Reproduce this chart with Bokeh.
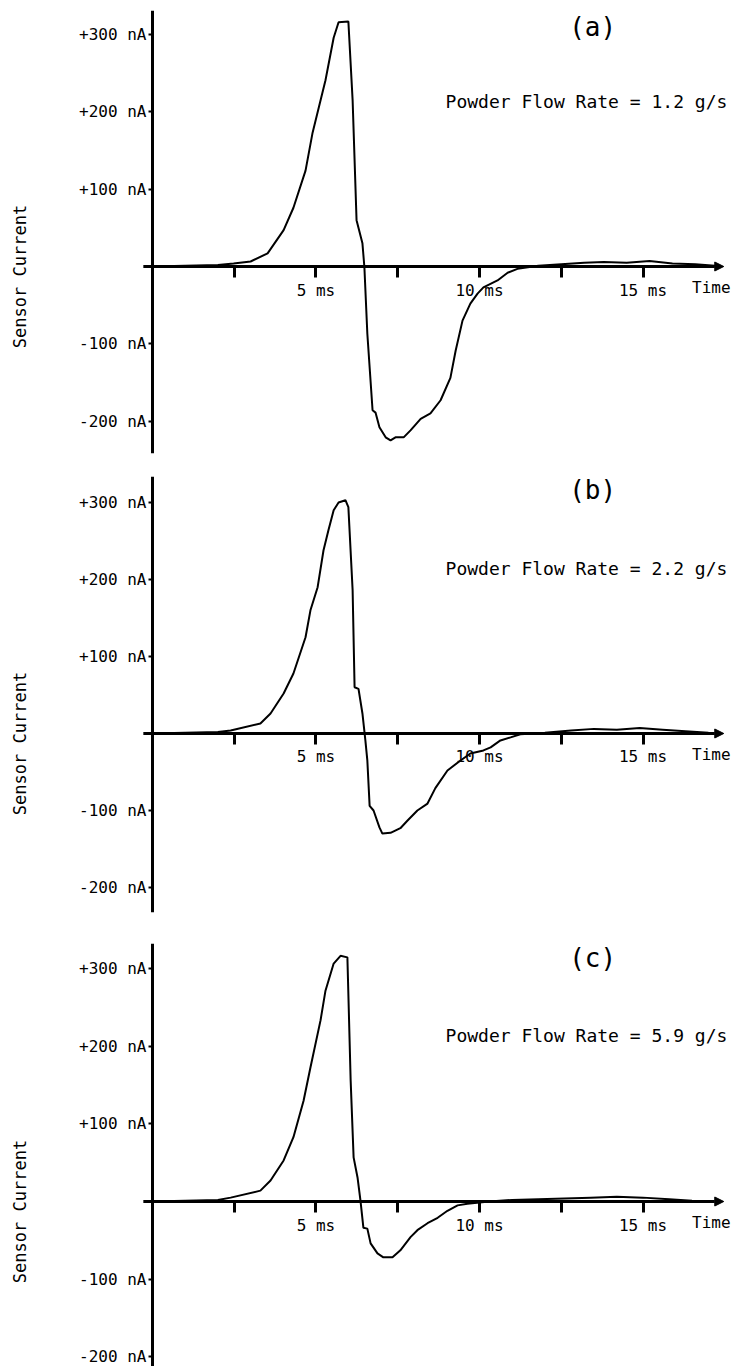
import math
from bokeh.plotting import figure
from bokeh.layouts import column
from bokeh.models import Label, Arrow, NormalHead, FixedTicker
from bokeh.embed import file_html
from bokeh.resources import INLINE

# ---------------- data ----------------
time_a = [0.0, 1.0, 2.0, 2.48, 3.0, 3.52, 4.01, 4.31, 4.68, 4.89, 5.29, 5.54, 5.69, 5.99,
          6.12, 6.24, 6.42, 6.48, 6.57, 6.73, 6.82, 6.94, 7.13, 7.28, 7.43, 7.68, 7.89,
          8.20, 8.50, 8.81, 9.11, 9.27, 9.48, 9.72, 9.94, 10.12, 10.55, 10.86, 11.16,
          11.8, 12.5, 13.2, 13.8, 14.5, 15.2, 15.9, 16.6, 17.2]
current_a = [0, 1, 2, 4, 6.5, 17, 47, 76, 124, 172, 241, 296, 316, 317,
             215, 60, 30, -1, -87, -186, -189, -208, -221, -225, -221, -221, -212,
             -197, -190, -173, -144, -109, -70, -48, -35, -27, -18, -8, -3,
             1, 3, 5, 6, 5, 7, 4, 3, 1]

time_b = [0.0, 1.0, 2.0, 2.39, 3.30, 3.61, 4.01, 4.31, 4.68, 4.83, 5.05, 5.23, 5.38, 5.54,
          5.69, 5.90, 5.99, 6.12, 6.18, 6.30, 6.42, 6.51, 6.57, 6.64, 6.76, 6.94, 7.03,
          7.28, 7.58, 7.80, 8.10, 8.41, 8.65, 9.02, 9.42, 9.72, 10.12, 10.34, 10.64,
          10.95, 11.25, 12.0, 12.8, 13.5, 14.2, 14.9, 15.6, 16.3, 17.0]
current_b = [0, 1, 2, 4, 13, 26, 52, 78, 125, 160, 190, 238, 264, 290,
             300, 303, 294, 186, 60, 58, 26, -9, -35, -94, -100, -122, -130,
             -129, -123, -113, -100, -91, -71, -48, -35, -26, -22, -18, -9,
             -5, -1, 1, 4, 6, 5, 7, 5, 3, 1]

time_c = [0.0, 1.0, 2.0, 2.39, 3.30, 3.61, 4.01, 4.31, 4.62, 4.83, 5.14, 5.29, 5.54,
          5.75, 5.96, 6.06, 6.15, 6.27, 6.36, 6.45, 6.57, 6.67, 6.88, 7.06, 7.34,
          7.58, 7.89, 8.10, 8.41, 8.72, 9.02, 9.33, 9.63, 10.3, 11.0, 11.8, 12.6,
          13.4, 14.2, 15.0, 15.8, 16.5]
current_c = [0, 1, 2, 5, 14, 27, 53, 83, 130, 173, 234, 272, 307,
             317, 315, 156, 57, 31, 1, -34, -35, -54, -67, -72, -72,
             -63, -46, -37, -28, -21, -12, -5, -3, 0, 2, 3, 4,
             5, 6, 5, 3, 1]

panel_tags = ["(a)", "(b)", "(c)"]
flow_rates = ["1.2", "2.2", "5.9"]

y_ticks = [-200, -100, 100, 200, 300]
y_tick_labels = {-200: "-200 nA", -100: "-100 nA", 100: "+100 nA", 200: "+200 nA", 300: "+300 nA"}
x_ticks = [2.5, 5, 7.5, 10, 12.5, 15]
x_tick_labels = {2.5: "", 5: "5 ms", 7.5: "", 10: "10 ms", 12.5: "", 15: "15 ms"}

# ---------------- layout / style ----------------
FONT = "DejaVu Sans Mono"
X_RANGE = (-4.648, 18.44)
WIDTH = 755
# (y_start, y_end, height, min_border_top, min_border_bottom)
PANEL_GEOM = [(-241.9, 331.2, 465, 10, 12),
              (-232.5, 333.8, 465, 11, 18),
              (-212.9, 332.9, 436, 13, 0)]
TAG_Y = [310, 316, 314]
FLOW_Y = [213, 214, 214]

series = [(time_a, current_a), (time_b, current_b), (time_c, current_c)]

figs = []
for i, ((t, c), (y0, y1, h, mbt, mbb)) in enumerate(zip(series, PANEL_GEOM)):
    p = figure(width=WIDTH, height=h, x_range=X_RANGE, y_range=(y0, y1),
               output_backend="svg", toolbar_location=None, title=None,
               min_border_left=0, min_border_right=0,
               min_border_top=mbt, min_border_bottom=mbb)
    p.outline_line_color = None
    p.grid.visible = False

    # y axis through x = 0
    p.yaxis.fixed_location = 0
    p.yaxis.ticker = FixedTicker(ticks=y_ticks)
    p.yaxis.major_label_overrides = y_tick_labels
    p.yaxis.axis_line_width = 3
    p.yaxis.axis_line_color = "black"
    p.yaxis.major_tick_out = 4
    p.yaxis.major_tick_in = 0
    p.yaxis.major_tick_line_width = 2
    p.yaxis.minor_tick_line_color = None
    p.yaxis.major_label_standoff = 2
    p.yaxis.major_label_text_font = FONT
    p.yaxis.major_label_text_font_size = "16px"
    p.yaxis.major_label_text_color = "black"

    # x axis through y = 0
    p.xaxis.fixed_location = 0
    p.xaxis.ticker = FixedTicker(ticks=x_ticks)
    p.xaxis.major_label_overrides = x_tick_labels
    p.xaxis.axis_line_color = None
    p.xaxis.major_tick_out = 11
    p.xaxis.major_tick_in = 0
    p.xaxis.major_tick_line_width = 3
    p.xaxis.major_tick_line_color = "black"
    p.xaxis.minor_tick_line_color = None
    p.xaxis.major_label_standoff = 3
    p.xaxis.major_label_text_font = FONT
    p.xaxis.major_label_text_font_size = "16px"
    p.xaxis.major_label_text_color = "black"

    # time axis line with arrow head
    p.add_layout(Arrow(x_start=-0.28, y_start=0, x_end=17.47, y_end=0,
                       line_width=3, line_color="black",
                       end=NormalHead(size=9, fill_color="black", line_color="black")))

    p.line(t, c, line_width=2, line_color="black")

    p.add_layout(Label(x=13.46, y=TAG_Y[i], text=panel_tags[i], text_font=FONT,
                       text_font_size="26px", text_align="center",
                       text_baseline="middle", text_color="black"))
    p.add_layout(Label(x=13.27, y=FLOW_Y[i], text=f"Powder Flow Rate = {flow_rates[i]} g/s",
                       text_font=FONT, text_font_size="18px", text_align="center",
                       text_baseline="middle", text_color="black"))
    p.add_layout(Label(x=16.5, y=0, y_offset=-21, text="Time", text_font=FONT,
                       text_font_size="16px", text_align="left",
                       text_baseline="middle", text_color="black"))
    p.add_layout(Label(x=-4.04, y=0, y_offset=-10, text="Sensor Current",
                       angle=math.pi / 2, text_font=FONT, text_font_size="17px",
                       text_align="center", text_baseline="middle",
                       text_color="black"))
    figs.append(p)

layout = column(*figs, spacing=0)
open("out.html", "w").write(file_html(layout, INLINE))
